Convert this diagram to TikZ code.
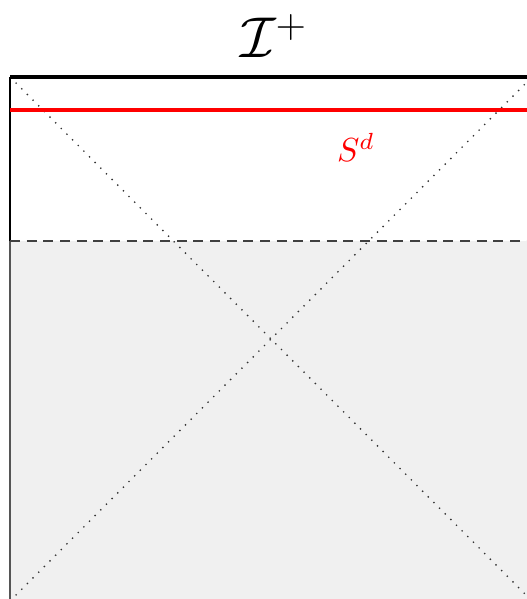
\documentclass[tikz,border=0pt]{standalone}
\usepackage{amsmath,amssymb}
\usepackage{xcolor}
\usepackage{tikz}
\usetikzlibrary{positioning}
\definecolor{interior}{HTML}{F0F0F0}
\definecolor{wall}{HTML}{555555}
\tikzset{
  boundary/.style={line width=1.2pt,draw=black},
  slice/.style={line width=1.1pt,draw=red},
  horizon/.style={semithick,densely dashed,draw=black!75},
  nullray/.style={dotted,draw=black!80}
}
\begin{document}
\begin{tikzpicture}[x=0.3pt,y=-0.3pt]
\useasboundingbox (0,0) rectangle (527,599);
\clip (0,0) rectangle (527,599);
% corners of the diagram
\coordinate (tl) at (10,77);
\coordinate (tr) at (532,77);
\coordinate (bl) at (10,601);
\coordinate (br) at (532,601);
\coordinate (hl) at (10,241);
\coordinate (hr) at (532,241);
\coordinate (sl) at (10,110);
\coordinate (sr) at (532,110);
\fill[interior] (hl) rectangle (br);
\draw[nullray] (tl) -- (br);
\draw[nullray] (bl) -- (tr);
\draw[semithick] (tl) -- (hl);
\draw[semithick,draw=wall] (hl) -- (bl);
\draw[horizon] (hl) -- (hr);
\draw[slice] (sl) -- (sr);
\draw[boundary] (tl) -- (tr);
% labels
\node[font=\LARGE] (scri) at (274,36) {$\mathcal{I}^+$};
\node[text=red] (sd) at (356,147) {$S^d$};
\end{tikzpicture}
\end{document}
